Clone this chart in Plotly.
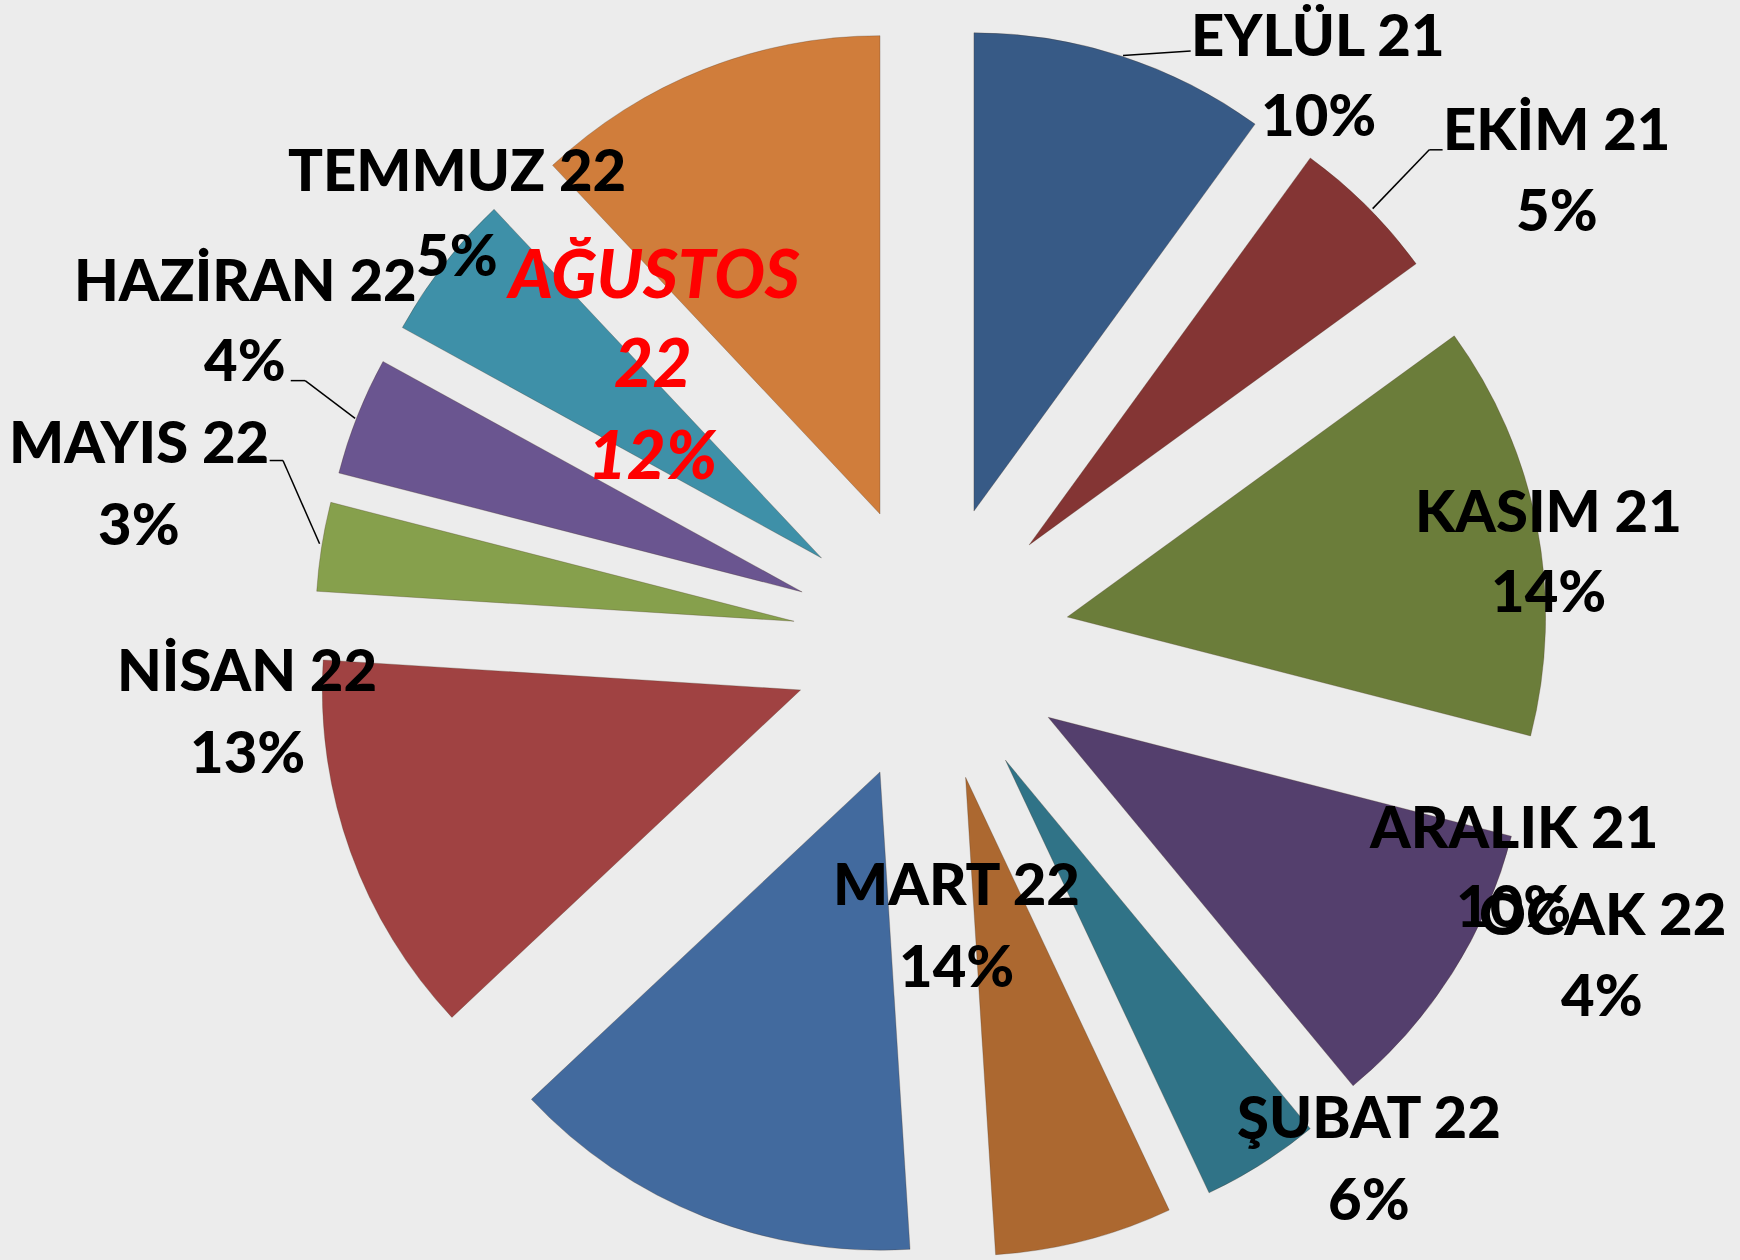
import plotly.graph_objects as go

W, H = 1740, 1260
S = W / 1568

months = ["EYLÜL 21", "EKİM 21", "KASIM 21", "ARALIK 21", "OCAK 22", "ŞUBAT 22",
          "MART 22", "NİSAN 22", "MAYIS 22", "HAZİRAN 22", "TEMMUZ 22", "AĞUSTOS 22"]
shares = [10, 5, 14, 10, 4, 6, 14, 13, 3, 4, 5, 12]
highlight = "AĞUSTOS 22"

slice_colors = ["#375A86", "#843534", "#6B7D3A", "#543F6D", "#307387", "#AC6830",
                "#426A9E", "#A04242", "#86A04C", "#6A5590", "#3E90A8", "#D07D3B"]

# label placement: centre x, then mid-y of each text line (name line(s), then percent)
label_pos = {
    "EYLÜL 21":   (1188, [30, 102]),
    "EKİM 21":    (1403, [115, 188]),
    "KASIM 21":   (1395, [459, 531]),
    "ARALIK 21":  (1364, [744, 815]),
    "OCAK 22":    (1444, [822, 895]),
    "ŞUBAT 22":   (1234, [1005, 1079]),
    "MART 22":    (862, [795, 869]),
    "NİSAN 22":   (223, [602, 676]),
    "MAYIS 22":   (125, [397, 471]),
    "HAZİRAN 22": (221, [251, 323]),
    "TEMMUZ 22":  (412, [152, 228]),
    "AĞUSTOS 22": (588, [245, 325, 408]),
}

# leader lines (polyline points)
leaders = [
    [(1012, 50), (1073, 46)],
    [(1237, 188), (1288, 135), (1300, 135)],
    [(262, 343), (275, 343), (320, 377)],
    [(243, 415), (255, 415), (288, 490)],
]


def to_paper(x, y):
    return x * S / W, 1 - y * S / H


fig = go.Figure(go.Pie(
    labels=months,
    values=shares,
    sort=False,
    direction="clockwise",
    rotation=0,
    pull=0.29,
    textinfo="none",
    hoverinfo="label+percent",
    marker=dict(colors=slice_colors, line=dict(color="rgba(70,50,30,0.45)", width=0.6)),
    domain=dict(x=[0.1805, 0.8897], y=[0, 0.9794]),
    showlegend=False,
))

annotations = []
for name, val in zip(months, shares):
    cx, ys = label_pos[name]
    if name == highlight:
        lines = name.split() + [f"{val}%"]
        font = dict(family="Lato", size=67, color="#FF0000", weight=900, style="italic")
    else:
        lines = [name, f"{val}%"]
        font = dict(family="Lato", size=58, color="#000000", weight=900)
    for txt, y in zip(lines, ys):
        px, py = to_paper(cx, y)
        annotations.append(dict(
            x=px, y=py, xref="paper", yref="paper",
            text=txt, showarrow=False, xanchor="center", yanchor="middle",
            font=font,
        ))

shapes = []
for pts in leaders:
    for (x0, y0), (x1, y1) in zip(pts[:-1], pts[1:]):
        a0, b0 = to_paper(x0, y0)
        a1, b1 = to_paper(x1, y1)
        shapes.append(dict(type="line", xref="paper", yref="paper",
                           x0=a0, y0=b0, x1=a1, y1=b1,
                           line=dict(color="black", width=1.5)))

fig.update_layout(
    width=W, height=H,
    margin=dict(t=0, b=0, l=0, r=0),
    paper_bgcolor="#ECECEC",
    plot_bgcolor="#ECECEC",
    annotations=annotations,
    shapes=shapes,
)

fig.write_html("out.html", config={"displayModeBar": False},
               post_script="document.body.style.margin = '0';")
